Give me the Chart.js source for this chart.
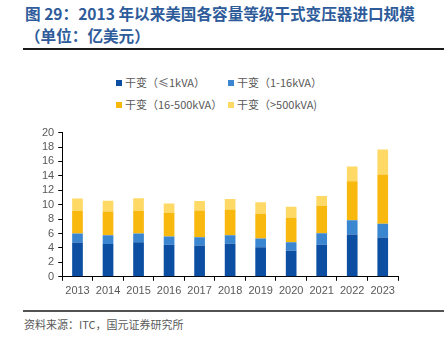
<!DOCTYPE html>
<html>
<head>
<meta charset="utf-8">
<script src="https://cdn.jsdelivr.net/npm/chart.js@4"></script>
<style>
    body { margin: 0; width: 444px; height: 340px; background: #fff; position: relative; overflow: hidden; font-family: "Noto Sans CJK SC", sans-serif; }
    .title { position: absolute; left: 25px; top: 2px; color: #2e5b9a; font-weight: bold; font-size: 15.6px; line-height: 22px; }
    .legend { position: absolute; left: 116px; top: 74px; width: 250px; display: grid; grid-template-columns: 112px 130px; row-gap: 6px; font-size: 11px; color: #595959; font-family: "Noto Sans CJK SC", "Liberation Sans", sans-serif; }
    .legend span.box { display: inline-block; width: 6px; height: 6px; margin-right: 3px; vertical-align: 1px; }
    .chart { position: absolute; left: 0; top: 122px; width: 444px; height: 180px; }
    .source { position: absolute; left: 24px; top: 316px; font-size: 11px; color: #595959; }
    svg.rules { position: absolute; left: 0; top: 0; width: 444px; height: 340px; pointer-events: none; }
</style>
</head>
<body>
<div class="title">图 29：2013 年以来美国各容量等级干式变压器进口规模<br>（单位：亿美元）</div>
<div class="legend" id="legend"></div>
<div class="chart"><canvas id="chart"></canvas></div>
<div class="source">资料来源：ITC，国元证券研究所</div>
<svg class="rules" width="444" height="340">
    <line x1="23" y1="49" x2="444" y2="49" stroke="#1a1a1a" stroke-width="2"/>
    <line x1="23" y1="311" x2="444" y2="311" stroke="#1a1a1a" stroke-width="1.5"/>
</svg>
<script>
const years = ['2013', '2014', '2015', '2016', '2017', '2018', '2019', '2020', '2021', '2022', '2023'];
const seriesNames = ['干变（≤1kVA）', '干变（1-16kVA）', '干变（16-500kVA）', '干变（>500kVA)'];
const upTo1k = [4.75, 4.55, 4.8, 4.45, 4.35, 4.6, 4.1, 3.6, 4.45, 5.85, 5.45];
const from1to16k = [1.25, 1.2, 1.2, 1.15, 1.15, 1.15, 1.2, 1.2, 1.6, 2.0, 1.9];
const from16to500k = [3.15, 3.3, 3.15, 3.3, 3.7, 3.6, 3.45, 3.35, 3.8, 5.4, 6.85];
const over500k = [1.7, 1.5, 1.75, 1.25, 1.3, 1.45, 1.6, 1.55, 1.35, 2.05, 3.45];
const yTicks = [0, 2, 4, 6, 8, 10, 12, 14, 16, 18, 20];

const colors = ['#0b4ea2', '#3a86d0', '#f8b80e', '#ffd966'];
const seriesData = [upTo1k, from1to16k, from16to500k, over500k];

const legend = document.getElementById('legend');
seriesNames.forEach((name, i) => {
    const item = document.createElement('div');
    item.innerHTML = `<span class="box" style="background:${colors[i]}"></span>${name}`;
    legend.appendChild(item);
});

const tickColor = '#595959';
new Chart(document.getElementById('chart'), {
    type: 'bar',
    data: {
        labels: years,
        datasets: seriesData.map((values, i) => ({
            label: seriesNames[i],
            data: values,
            backgroundColor: colors[i],
            barPercentage: 0.7,
            categoryPercentage: 0.5,
        })),
    },
    options: {
        responsive: true,
        maintainAspectRatio: false,
        animation: false,
        layout: { padding: { left: 38, right: 46, top: 4, bottom: 0 } },
        plugins: { legend: { display: false }, tooltip: { enabled: false } },
        scales: {
            x: {
                stacked: true,
                border: { color: '#000', width: 1 },
                grid: { display: true, drawOnChartArea: false, color: '#000', tickLength: 4, offset: true },
                ticks: { color: tickColor, font: { size: 11, family: 'Liberation Sans' }, padding: 4 },
            },
            y: {
                stacked: true,
                min: 0,
                max: 20,
                afterBuildTicks: (axis) => { axis.ticks = yTicks.map((v) => ({ value: v })); },
                border: { color: '#000', width: 1 },
                grid: { display: true, drawOnChartArea: false, color: '#000', tickLength: 4 },
                ticks: { color: tickColor, font: { size: 11, family: 'Liberation Sans' }, padding: 4, autoSkip: false },
            },
        },
    },
});
</script>
</body>
</html>
